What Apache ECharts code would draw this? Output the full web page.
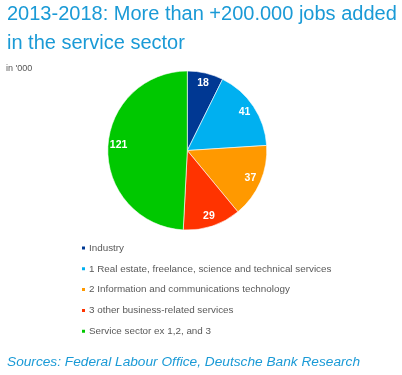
<!DOCTYPE html>
<html><head><meta charset="utf-8">
<script src="https://cdn.jsdelivr.net/npm/echarts@6/dist/echarts.min.js"></script>
<style>html,body{margin:0;padding:0;background:#fff}#c{width:402px;height:375px}</style>
</head><body><div id="c"></div>
<script>
const categories = ["Industry","1 Real estate, freelance, science and technical services","2 Information and communications technology","3 other business-related services","Service sector ex 1,2, and 3"];
const values = [18, 41, 37, 29, 121];
const colors = ["#003893","#00b0f0","#ff9900","#ff3300","#00c800"];
const chart = echarts.init(document.getElementById('c'));
const data = categories.map((n,i)=>({name:n,value:values[i],itemStyle:{color:colors[i]}}));
chart.setOption({
  animation:false,
  title:[
    {text:"2013-2018: More than +200.000 jobs added\nin the service sector",left:7,top:0,padding:0,textStyle:{fontFamily:"Liberation Sans",fontSize:20,fontWeight:"normal",color:"#1a9ad6",lineHeight:29}},
    {text:"in '000",left:6,top:64,padding:0,textStyle:{fontFamily:"Liberation Sans",fontSize:9,fontWeight:"normal",color:"#555"}},
    {text:"Sources: Federal Labour Office, Deutsche Bank Research",left:7,top:355,padding:0,textStyle:{fontFamily:"Liberation Sans",fontSize:13.7,fontStyle:"italic",fontWeight:"normal",color:"#1a9ad6"}}
  ],
  legend:{orient:"vertical",left:80,top:242,padding:0,itemWidth:5,itemHeight:5,itemGap:8.8,icon:"rect",
    textStyle:{fontFamily:"Liberation Sans",fontSize:9.85,lineHeight:12,color:"#595959",padding:[0,0,0,-2]},data:categories},
  series:[
    {type:"pie",center:[187.3,150.5],radius:[0,79.5],startAngle:90,clockwise:true,data:data,
     itemStyle:{borderColor:"#fff",borderWidth:0.6},label:{show:false},labelLine:{show:false}},
    {type:"pie",center:[187.3,150.5],radius:[52,79.5],startAngle:90,clockwise:true,silent:true,
     data:data.map((d,i)=>({name:d.name,value:d.value,itemStyle:{color:"transparent"},
       label: i===4 ? {offset:[0,-4]} : {}})),
     label:{show:true,position:"inside",formatter:"{c}",color:"#fff",fontFamily:"Liberation Sans",fontWeight:"bold",fontSize:10.5},
     labelLine:{show:false},legendHoverLink:false}
  ]
});
</script></body></html>
